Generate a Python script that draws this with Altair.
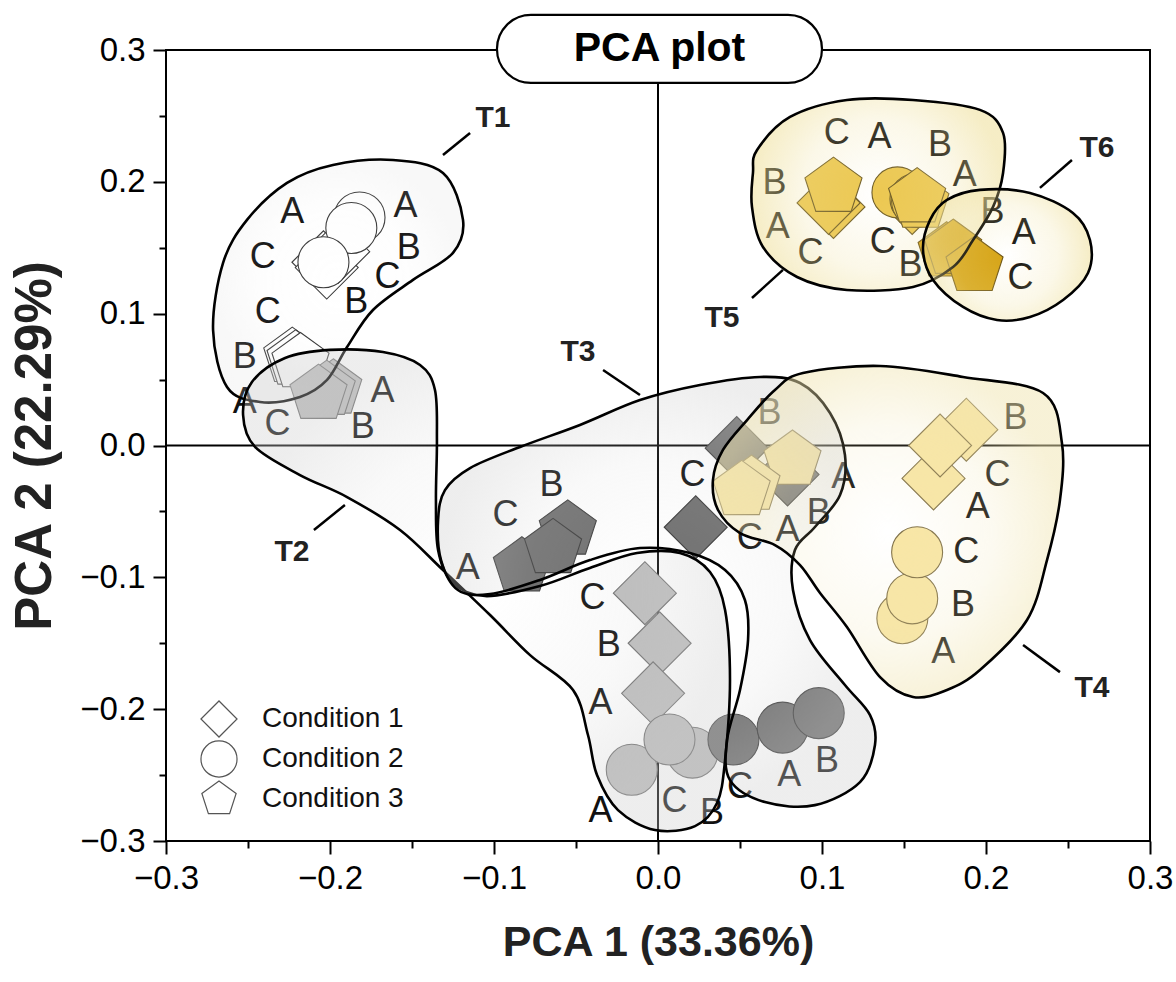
import altair as alt
import pandas as pd

FONT = "Liberation Sans"
PENTAGON = "M0,-1L0.951,-0.309L0.588,0.809L-0.588,0.809L-0.951,-0.309Z"

conditions = ["Condition 1", "Condition 2", "Condition 3"]
shapes = ["diamond", "circle", PENTAGON]
marker_sizes = [3969, 2600, 3600]

groups = ["T1", "T2", "T3", "T4", "T5", "T6"]
group_fill = ["#ffffff", "#bdbdbd", "#707070", "#f8e6a6", "#ecc852", "#d6a416"]
group_stroke = ["#3a3a3a", "#6e6e6e", "#3d3d3d", "#7f7048", "#6d5b26", "#6b5212"]

# ---- PCA scores ----
# Condition 1 (diamonds)
c1_group = ["T1"] * 3 + ["T2"] * 3 + ["T3"] * 3 + ["T4"] * 3 + ["T5"] * 3
c1_pc1 = [-0.204, -0.202, -0.195, -0.008, 0.001, -0.003, 0.023, 0.048, 0.079,
          0.188, 0.168, 0.172, 0.107, 0.104, 0.155]
c1_pc2 = [0.139, 0.135, 0.147, -0.112, -0.150, -0.188, -0.062, -0.002, -0.022,
          0.012, -0.025, 0.000, 0.181, 0.184, 0.184]
# Condition 2 (circles)
c2_group = ["T1"] * 3 + ["T2"] * 3 + ["T3"] * 3 + ["T4"] * 3 + ["T5"] * 3
c2_pc1 = [-0.182, -0.187, -0.204, -0.016, 0.021, 0.007, 0.046, 0.076, 0.098,
          0.149, 0.155, 0.158, 0.146, 0.157, 0.158]
c2_pc2 = [0.173, 0.165, 0.139, -0.246, -0.233, -0.223, -0.223, -0.214, -0.203,
          -0.131, -0.116, -0.081, 0.192, 0.187, 0.185]
# Condition 3 (pentagons)
c3_group = ["T1"] * 3 + ["T2"] * 3 + ["T3"] * 3 + ["T4"] * 3 + ["T5"] * 3 + ["T6"] * 3
c3_pc1 = [-0.223, -0.221, -0.218, -0.198, -0.202, -0.207, -0.083, -0.055, -0.064,
          0.082, 0.057, 0.051, 0.107, 0.160, 0.158, 0.176, 0.180, 0.193]
c3_pc2 = [0.067, 0.065, 0.063, 0.043, 0.042, 0.039, -0.092, -0.064, -0.078,
          -0.011, -0.030, -0.034, 0.196, 0.184, 0.188, 0.147, 0.149, 0.136]

# ---- replicate letters ----
label_text = ["A", "C", "A", "B", "C", "B", "C", "B", "A",
              "A", "C", "B", "C", "B", "A", "A", "C", "B",
              "A", "C", "B", "C", "B", "A", "B", "A", "C", "C", "A", "B",
              "B", "C", "A", "C", "B", "A",
              "C", "A", "B", "A", "B", "A", "C", "C", "B",
              "B", "A", "C"]
label_pc1 = [-0.223, -0.241, -0.154, -0.152, -0.165, -0.184, -0.238, -0.252, -0.252,
             -0.168, -0.232, -0.180, -0.040, -0.030, -0.035, -0.035, 0.010, 0.033,
             -0.116, -0.093, -0.065, 0.021, 0.068, 0.113, 0.098, 0.079, 0.056, 0.050, 0.080, 0.103,
             0.218, 0.207, 0.195, 0.188, 0.186, 0.174,
             0.109, 0.135, 0.172, 0.187, 0.071, 0.073, 0.093, 0.137, 0.154,
             0.204, 0.223, 0.221]
label_pc2 = [0.177, 0.143, 0.182, 0.150, 0.128, 0.109, 0.101, 0.067, 0.033,
             0.041, 0.016, 0.014, -0.116, -0.151, -0.195, -0.277, -0.270, -0.279,
             -0.093, -0.053, -0.030, -0.022, 0.025, -0.024, -0.051, -0.064, -0.070, -0.259, -0.250, -0.239,
             0.021, -0.022, -0.047, -0.081, -0.121, -0.157,
             0.237, 0.234, 0.228, 0.205, 0.199, 0.166, 0.146, 0.154, 0.137,
             0.177, 0.161, 0.127]

# ---- group outlines (closed smooth curves through these points) ----
t1_x = [-0.1616, -0.1311, -0.1189, -0.1250, -0.1494, -0.1738, -0.1896, -0.2018,
        -0.2183, -0.2427, -0.2628, -0.2713, -0.2652, -0.2506, -0.2262, -0.1982]
t1_y = [0.2166, 0.2067, 0.1711, 0.1461, 0.1256, 0.1028, 0.0747, 0.0497,
        0.0368, 0.0330, 0.0444, 0.0876, 0.1385, 0.1711, 0.1992, 0.2128]

t2_x = [-0.2000, -0.1677, -0.1451, -0.1360, -0.1348, -0.1354, -0.1341, -0.1256, -0.1055,
        -0.0720, -0.0415, -0.0128, 0.0134, 0.0317, 0.0409, 0.0439, 0.0409, 0.0360,
        0.0226, -0.0018, -0.0244, -0.0372, -0.0427, -0.0518, -0.0780, -0.1024,
        -0.1311, -0.1573, -0.1896, -0.2183, -0.2457, -0.2530, -0.2476, -0.2274]
t2_y = [0.0725, 0.0709, 0.0611, 0.0421, 0.0042, -0.0414, -0.0793, -0.1036, -0.1142,
        -0.1066, -0.0929, -0.0816, -0.0816, -0.0960, -0.1248, -0.1779, -0.2386, -0.2712,
        -0.2887, -0.2917, -0.2766, -0.2500, -0.2196, -0.1855, -0.1590, -0.1286,
        -0.0945, -0.0641, -0.0391, -0.0224, -0.0011, 0.0231, 0.0482, 0.0664]

t3_x = [-0.1299, -0.1146, -0.0841, -0.0476, -0.0110, 0.0256, 0.0622, 0.0866, 0.1049,
        0.1140, 0.1110, 0.0957, 0.0835, 0.0823, 0.0927, 0.1140, 0.1293, 0.1323,
        0.1232, 0.0957, 0.0652, 0.0439, 0.0421, 0.0500, 0.0549, 0.0530, 0.0409,
        0.0195, -0.0110, -0.0415, -0.0720, -0.1024, -0.1220, -0.1323, -0.1341]
t3_y = [-0.0338, -0.0171, -0.0011, 0.0156, 0.0345, 0.0459, 0.0520, 0.0474, 0.0247,
        -0.0072, -0.0376, -0.0618, -0.0793, -0.1096, -0.1476, -0.1817, -0.2045, -0.2272,
        -0.2553, -0.2728, -0.2705, -0.2538, -0.2234, -0.1855, -0.1476, -0.1172, -0.0945,
        -0.0816, -0.0778, -0.0869, -0.1020, -0.1127, -0.1096, -0.0869, -0.0565]

t4_x = [0.0884, 0.1354, 0.1860, 0.2348, 0.2463, 0.2451, 0.2372, 0.2250, 0.1963, 0.1762,
        0.1555, 0.1354, 0.1152, 0.0988, 0.0866, 0.0713, 0.0500, 0.0366, 0.0335, 0.0396,
        0.0543, 0.0713]
t4_y = [0.0550, 0.0603, 0.0520, 0.0398, 0.0019, -0.0414, -0.0869, -0.1324, -0.1703, -0.1855,
        -0.1908, -0.1757, -0.1377, -0.1119, -0.0907, -0.0755, -0.0664, -0.0489, -0.0262, -0.0034,
        0.0193, 0.0421]

t5_x = [0.0604, 0.0805, 0.1152, 0.1555, 0.1963, 0.2104, 0.2104, 0.2043, 0.1921, 0.1799,
        0.1555, 0.1152, 0.0848, 0.0640, 0.0573, 0.0579]
t5_y = [0.2242, 0.2492, 0.2621, 0.2621, 0.2546, 0.2371, 0.2067, 0.1810, 0.1559, 0.1354,
        0.1203, 0.1180, 0.1278, 0.1506, 0.1810, 0.2067]

t6_x = [0.1659, 0.1762, 0.1963, 0.2268, 0.2530, 0.2634, 0.2622, 0.2470, 0.2268, 0.2067,
        0.1860, 0.1677, 0.1616]
t6_y = [0.1711, 0.1863, 0.1939, 0.1916, 0.1764, 0.1559, 0.1309, 0.1104, 0.0975, 0.0952,
        0.1051, 0.1256, 0.1483]

# ---- group tags and their leader lines ----
tag_text = ["T1", "T2", "T3", "T4", "T5", "T6"]
tag_pc1 = [-0.1006, -0.2232, -0.0488, 0.2646, 0.0390, 0.2677]
tag_pc2 = [0.2485, -0.0808, 0.0709, -0.1840, 0.0967, 0.2257]
lead_pc1 = [-0.1311, -0.1909, -0.0335, 0.2226, 0.0762, 0.2329]
lead_pc2 = [0.2204, -0.0451, 0.0573, -0.1514, 0.1332, 0.1954]
lead_pc1_end = [-0.1146, -0.2098, -0.0110, 0.2451, 0.0573, 0.2524]
lead_pc2_end = [0.2371, -0.0641, 0.0383, -0.1719, 0.1119, 0.2166]

# ---- title badge ----
title_text = "PCA plot"
badge_pc1, badge_pc1_end = -0.0982, 0.1000
badge_pc2, badge_pc2_end = 0.3266, 0.2750

# ---- build tables ----
cond_col = ([conditions[0]] * len(c1_group) + [conditions[1]] * len(c2_group)
            + [conditions[2]] * len(c3_group))
points = pd.DataFrame({
    "group": c1_group + c2_group + c3_group,
    "condition": cond_col,
    "pc1": c1_pc1 + c2_pc1 + c3_pc1,
    "pc2": c1_pc2 + c2_pc2 + c3_pc2,
})
letters = pd.DataFrame({"text": label_text, "pc1": label_pc1, "pc2": label_pc2})
tags = pd.DataFrame({"text": tag_text, "pc1": tag_pc1, "pc2": tag_pc2})
leads = pd.DataFrame({"pc1": lead_pc1, "pc2": lead_pc2,
                      "pc1_end": lead_pc1_end, "pc2_end": lead_pc2_end})
axes_df = pd.DataFrame({"pc1": [0.0, -0.3], "pc1_end": [0.0, 0.3],
                        "pc2": [badge_pc2_end, 0.0], "pc2_end": [-0.3, 0.0]})
badge = pd.DataFrame({"pc1": [badge_pc1], "pc1_end": [badge_pc1_end],
                      "pc2": [badge_pc2], "pc2_end": [badge_pc2_end],
                      "text": [title_text]})
badge["pc1_mid"] = (badge["pc1"] + badge["pc1_end"]) / 2
badge["pc2_mid"] = (badge["pc2"] + badge["pc2_end"]) / 2

xs = alt.Scale(domain=[-0.3, 0.3], nice=False, zero=False)
ys = alt.Scale(domain=[-0.3, 0.3], nice=False, zero=False)

tick_vals = [round(-0.3 + 0.05 * i, 2) for i in range(13)]
major = "abs(datum.value * 10 - round(datum.value * 10)) < 0.001"
label_expr = f"{major} ? format(datum.value, '.1f') : ''"
tick_size = {"condition": {"test": major, "value": 13}, "value": 7}


def axis(title, size, pad):
    return alt.Axis(values=tick_vals, labelExpr=label_expr, tickSize=tick_size,
                    tickWidth=2, tickColor="black", domain=False, grid=False,
                    labelFont=FONT, labelFontSize=33, labelColor="black", labelPadding=8,
                    labelFlush=False, labelOverlap=False,
                    title=title, titleFont=FONT, titleFontSize=size, titleFontWeight="bold",
                    titleColor="#222", titlePadding=pad)


def X(field="pc1"):
    return alt.X(f"{field}:Q", scale=xs)


def Y(field="pc2"):
    return alt.Y(f"{field}:Q", scale=ys)


zero_lines = alt.Chart(axes_df).mark_rule(color="black", strokeWidth=2).encode(
    x=alt.X("pc1:Q", scale=xs, axis=axis("PCA 1 (33.36%)", 43, 26)),
    x2="pc1_end:Q",
    y=alt.Y("pc2:Q", scale=ys, axis=axis("PCA 2 (22.29%)", 51, 18)),
    y2="pc2_end:Q",
)

legend = alt.Legend(title=None, orient="none", legendX=34, legendY=650,
                    symbolSize=1300, symbolFillColor="white",
                    symbolStrokeColor="#555", symbolStrokeWidth=1.2,
                    labelFont=FONT, labelFontSize=28, labelColor="#111",
                    labelOffset=24, rowPadding=-2, padding=0)

# one layer per condition: diamonds, then circles, then pentagons on top
marker_layers = [
    alt.Chart(points[points["condition"] == cond]).mark_point(
        opacity=1, strokeWidth=1.1, size=sz
    ).encode(
        x=X(), y=Y(),
        shape=alt.Shape("condition:N", scale=alt.Scale(domain=conditions, range=shapes),
                        legend=legend),
        fill=alt.Fill("group:N", scale=alt.Scale(domain=groups, range=group_fill),
                      legend=None),
        stroke=alt.Stroke("group:N", scale=alt.Scale(domain=groups, range=group_stroke),
                          legend=None),
    )
    for cond, sz in zip(conditions, marker_sizes)
]

letter_marks = alt.Chart(letters).mark_text(
    font=FONT, fontSize=36, color="#111", baseline="middle", align="center"
).encode(x=X(), y=Y(), text="text:N")


def tint(rgb, mid, edge):
    r, g, b = rgb
    return alt.RadialGradient(
        gradient="radial", x1=0.5, y1=0.5, r1=0.0, x2=0.5, y2=0.5, r2=0.5,
        stops=[alt.GradientStop(offset=0.0, color=f"rgba({r},{g},{b},0)"),
               alt.GradientStop(offset=0.6, color=f"rgba({r},{g},{b},{mid})"),
               alt.GradientStop(offset=1.0, color=f"rgba({r},{g},{b},{edge})")])


def outline(px, py, rgb, mid, edge):
    df = pd.DataFrame({"pc1": px, "pc2": py, "i": list(range(len(px)))})
    return alt.Chart(df).mark_line(
        interpolate="cardinal-closed", stroke="black", strokeWidth=2.6,
        fill=tint(rgb, mid, edge)
    ).encode(x=X(), y=Y(), order="i:Q")


hulls = [
    outline(t1_x, t1_y, (215, 215, 215), 0.04, 0.18),
    outline(t2_x, t2_y, (205, 205, 205), 0.12, 0.35),
    outline(t3_x, t3_y, (205, 205, 205), 0.12, 0.35),
    outline(t4_x, t4_y, (240, 228, 175), 0.18, 0.5),
    outline(t5_x, t5_y, (238, 222, 150), 0.22, 0.55),
    outline(t6_x, t6_y, (238, 222, 150), 0.22, 0.55),
]

lead_marks = alt.Chart(leads).mark_rule(color="black", strokeWidth=2.5).encode(
    x=X(), y=Y(), x2="pc1_end:Q", y2="pc2_end:Q")

tag_marks = alt.Chart(tags).mark_text(
    font=FONT, fontSize=30, fontWeight="bold", color="#222", baseline="middle", align="center"
).encode(x=X(), y=Y(), text="text:N")

badge_box = alt.Chart(badge).mark_rect(
    fill="white", stroke="black", strokeWidth=2.2, cornerRadius=34
).encode(x=X(), x2="pc1_end:Q", y=Y(), y2="pc2_end:Q")

badge_text = alt.Chart(badge).mark_text(
    font=FONT, fontSize=41, fontWeight="bold", color="black", baseline="middle", align="center"
).encode(x=X("pc1_mid"), y=Y("pc2_mid"), text="text:N")

chart = alt.layer(
    zero_lines, *marker_layers, letter_marks, *hulls, lead_marks, tag_marks,
    badge_box, badge_text
).properties(
    width=984, height=791,
    padding={"left": 166, "top": 50, "right": 26, "bottom": 141},
    autosize=alt.AutoSizeParams(type="none"),
).configure(
    font=FONT, background="white"
).configure_view(
    stroke="black", strokeWidth=2
)

chart.save("out.html", embed_options={"renderer": "svg", "actions": False})
